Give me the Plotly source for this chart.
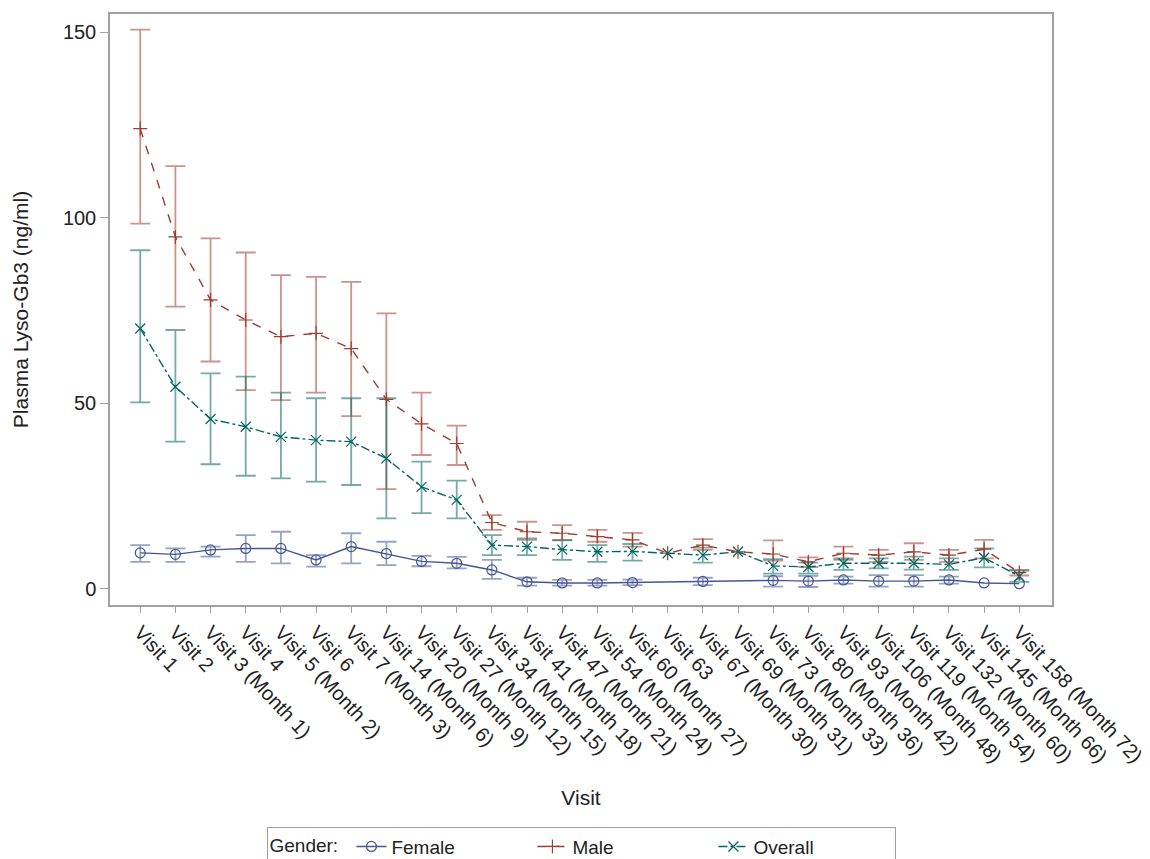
import plotly.graph_objects as go

visits = ["Visit 1", "Visit 2", "Visit 3 (Month 1)", "Visit 4", "Visit 5 (Month 2)", "Visit 6",
          "Visit 7 (Month 3)", "Visit 14 (Month 6)", "Visit 20 (Month 9)", "Visit 27 (Month 12)",
          "Visit 34 (Month 15)", "Visit 41 (Month 18)", "Visit 47 (Month 21)", "Visit 54 (Month 24)",
          "Visit 60 (Month 27)", "Visit 63", "Visit 67 (Month 30)", "Visit 69 (Month 31)",
          "Visit 73 (Month 33)", "Visit 80 (Month 36)", "Visit 93 (Month 42)", "Visit 106 (Month 48)",
          "Visit 119 (Month 54)", "Visit 132 (Month 60)", "Visit 145 (Month 66)", "Visit 158 (Month 72)"]

female_mean = [9.6, 9.2, 10.4, 10.8, 10.8, 7.7, 11.3, 9.4, 7.3, 6.8, 5.0, 1.8, 1.5, 1.5, 1.6, None,
               1.9, None, 2.2, 2.0, 2.3, 2.0, 2.0, 2.3, 1.5, 1.3]
female_lower = [7.2, 7.2, 8.6, 7.2, 6.8, 5.9, 6.8, 6.3, 6.0, 5.4, 2.6, 0.8, 0.8, 0.8, 0.9, None,
                0.9, None, 0.5, 0.4, 1.3, 0.5, 0.5, 1.3, None, None]
female_upper = [11.7, 10.8, 11.3, 14.4, 15.3, 9.0, 14.9, 12.6, 8.8, 8.5, 7.7, 2.9, 2.3, 2.3, 2.4, None,
                2.9, None, 3.3, 3.4, 3.2, 3.6, 3.6, 3.2, None, None]

male_mean = [124.0, 94.8, 77.8, 72.4, 67.9, 68.8, 64.7, 51.0, 44.4, 39.1, 17.8, 15.3, 14.9, 14.0, 13.1, 9.5,
             11.7, 9.9, 9.3, 7.2, 9.5, 9.0, 9.9, 9.0, 10.6, 4.3]
male_lower = [98.4, 76.0, 61.2, 53.5, 50.8, 52.8, 46.5, 26.8, 36.0, 33.3, 15.8, 13.1, 13.1, 12.6, 11.3, None,
              10.4, None, 7.5, 5.8, 7.7, 7.2, 7.7, 7.2, 8.1, 3.5]
male_upper = [150.7, 113.9, 94.4, 90.6, 84.5, 84.0, 82.7, 74.2, 52.8, 43.9, 19.8, 18.0, 17.1, 15.8, 15.0, None,
              13.3, None, 13.0, 8.4, 11.3, 10.4, 12.2, 10.4, 13.1, 5.0]

overall_mean = [70.1, 54.4, 45.7, 43.6, 40.9, 40.0, 39.6, 35.1, 27.4, 23.9, 11.7, 11.3, 10.5, 9.9, 10.0, 9.5,
                9.0, 9.9, 6.1, 5.8, 6.8, 6.8, 6.8, 6.5, 8.3, 3.3]
overall_lower = [50.2, 39.6, 33.5, 30.4, 29.7, 28.8, 27.9, 18.9, 20.3, 18.9, 9.0, 9.0, 7.7, 7.2, 7.5, None,
                 7.0, None, 4.0, 4.0, 5.0, 5.4, 5.1, 5.0, 5.7, 1.8]
overall_upper = [91.2, 69.7, 58.0, 57.1, 52.8, 51.3, 51.3, 51.3, 34.2, 29.1, 14.4, 13.5, 13.0, 11.7, 12.0, None,
                 11.0, None, 7.9, 7.0, 8.1, 8.1, 8.6, 8.1, 10.8, 4.8]

series = [
    ("Female", female_mean, female_lower, female_upper, "#445694", "solid", "circle-open"),
    ("Male", male_mean, male_lower, male_upper, "#A23A2E", "dash", "cross-thin-open"),
    ("Overall", overall_mean, overall_lower, overall_upper, "#01665E", "dashdot", "x-thin-open"),
]


def rgba(hexc, a):
    h = hexc.lstrip("#")
    return "rgba(%d,%d,%d,%.2f)" % (int(h[0:2], 16), int(h[2:4], 16), int(h[4:6], 16), a)


fig = go.Figure()

# error bars (only where limits exist)
for name, mean, lo, hi, col, dash, sym in series:
    xs, ys, ep, em = [], [], [], []
    for v, m, l, u in zip(visits, mean, lo, hi):
        if m is None or l is None or u is None:
            continue
        xs.append(v)
        ys.append(m)
        ep.append(u - m)
        em.append(m - l)
    fig.add_trace(go.Scatter(
        x=xs, y=ys, mode="markers", showlegend=False, hoverinfo="skip",
        marker=dict(size=1, opacity=0, color=col),
        error_y=dict(type="data", symmetric=False, array=ep, arrayminus=em,
                     color=rgba(col, 0.55), thickness=1.8, width=10),
    ))

# lines with markers
for name, mean, lo, hi, col, dash, sym in series:
    fig.add_trace(go.Scatter(
        x=visits, y=mean, mode="lines+markers", name=name, connectgaps=True,
        line=dict(color=col, width=1.4, dash=dash),
        marker=dict(symbol=sym, size=10, color=col, line=dict(color=col, width=1.2)),
    ))

font_family = "Liberation Sans, Arial, sans-serif"

fig.update_layout(
    width=1150, height=859,
    margin=dict(l=110, r=98, t=14, b=254, autoexpand=False),
    paper_bgcolor="white", plot_bgcolor="white",
    font=dict(family=font_family, size=20, color="#222222"),
    showlegend=True,
    legend=dict(
        orientation="h", x=0.5, xanchor="center", y=-0.375, yanchor="top",
        title=dict(text="Gender: ", font=dict(size=19)),
        bordercolor="#A0A0A0", borderwidth=1, bgcolor="white",
        font=dict(size=19), entrywidth=136, entrywidthmode="pixels",
        tracegroupgap=0,
    ),
    xaxis=dict(
        type="category", categoryorder="array", categoryarray=visits,
        range=[-0.86, 25.93], tickangle=47, showgrid=False, zeroline=False,
        showline=True, mirror=True, linecolor="#A0A0A0", linewidth=1.5,
        ticks="outside", ticklen=6, tickcolor="#A0A0A0", automargin=False,
        tickfont=dict(size=20, color="#222222"),
        title=dict(text="Visit", font=dict(size=21), standoff=24),
    ),
    yaxis=dict(
        range=[-4.45, 154.9], tickvals=[0, 50, 100, 150], showgrid=False, zeroline=False,
        showline=True, mirror=True, linecolor="#A0A0A0", linewidth=1.5,
        ticks="outside", ticklen=8, tickcolor="#A0A0A0", automargin=False,
        tickfont=dict(size=20, color="#222222"),
        title=dict(text="Plasma Lyso-Gb3 (ng/ml)", font=dict(size=21), standoff=29),
    ),
)

fig.write_html("out.html")
